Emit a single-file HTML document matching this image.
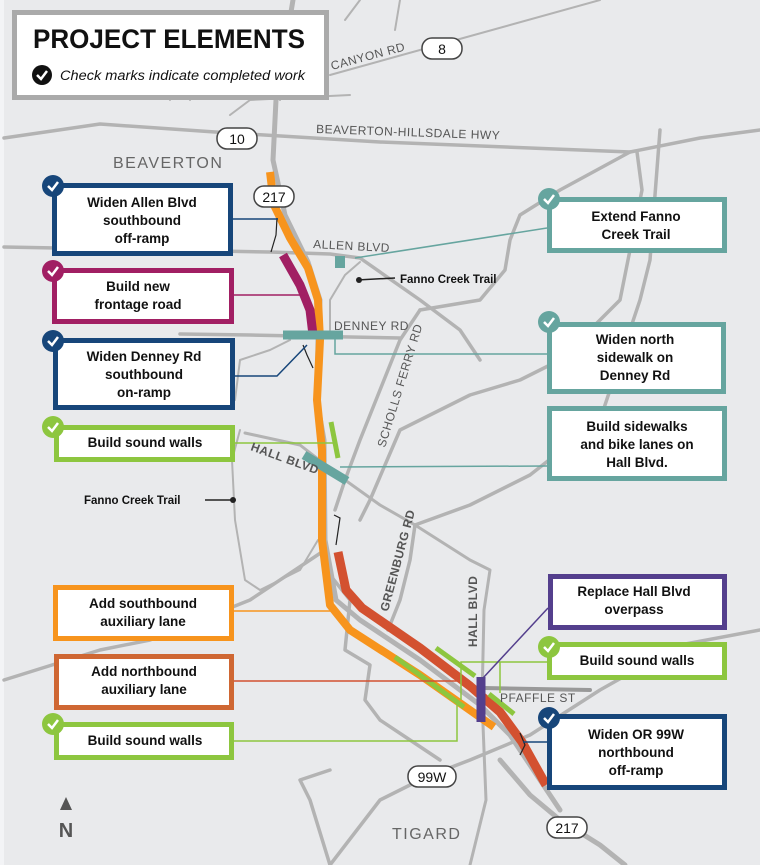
<!DOCTYPE html>
<html><head><meta charset="utf-8"><style>
html,body{margin:0;padding:0;}
body{width:760px;height:865px;overflow:hidden;background:#e9eaec;}
svg{display:block;font-family:"Liberation Sans",sans-serif;}
.b{font-weight:bold;font-size:13.5px;fill:#111;text-anchor:middle;}
.r{fill:#555;font-size:12px;letter-spacing:0.5px;}
</style></head><body>
<svg width="760" height="865" viewBox="0 0 760 865" xmlns="http://www.w3.org/2000/svg">
<rect x="0" y="0" width="760" height="865" fill="#e9eaec"/>
<rect x="0" y="0" width="4" height="865" fill="#f3f4f6"/>
<!-- roads -->
<g fill="none" stroke="#b3b3b3" stroke-width="3.5" stroke-linecap="round" stroke-linejoin="round">
<path d="M4,138 L100,124 L215,132 L380,142 L630,152 L700,138 L760,130"/>
<path d="M630,152 L560,190 L520,215 L510,240 L505,270 L480,300 L420,310"/>
<path d="M637,152 L642,190 L632,240 L620,300 L600,320 L560,360 L520,380 L470,395 L400,430 L370,500 L360,520"/>
<path d="M4,247 L270,252 L330,254 L360,258 L420,300 L460,330 L480,360"/>
<path d="M180,334 L250,335 L400,338"/>
<path d="M420,310 L400,340 L380,390 L360,440 L345,480 L335,510"/>
<path d="M245,433 L300,445 L345,480 L380,505 L415,525 L470,560 L490,570 L484,610 L482,700 L486,800 L470,865" stroke-width="3"/>
<path d="M415,525 L410,560 L400,600 L388,630"/>
<path d="M415,525 L470,505 L530,475 L600,420 L640,300 L650,260 L660,130"/>
<path d="M4,680 L100,650 L150,640 L250,600 L310,560 L325,550"/>
<path d="M330,575 L350,600 L345,650 L370,665 L365,700 L380,720 L410,740 L440,760"/>
<path d="M418,780 L470,760 L530,735 L600,690 L680,645 L760,630"/>
<path d="M440,770 L380,800 L330,865"/>
<path d="M330,770 L300,780 L310,800 L330,865"/>
<path d="M500,760 L530,795 L560,820 L600,845 L625,865" stroke-width="5"/>
<path d="M293,0 L283,60 L276,100 L273,160 L285,215 L308,262 L320,300 L318,340 L317,400 L324,440 L325,540 L336,600 L360,620 L420,660 L480,705 L510,735 L540,780 L560,810" stroke-width="5"/>
<path d="M484,688 L590,690" stroke="#999" stroke-width="4"/>
<path d="M360,0 L345,20 M400,0 L395,30 M170,100 L175,60 M190,100 L200,60 M280,100 L290,60 M230,115 L250,100 L350,95" stroke-width="2"/>
<path d="M235,400 L240,360 L270,350 L290,340 M240,430 L232,460 L235,520 L245,580 L260,590 L300,570 L318,540" stroke-width="2"/>
<path d="M330,330 L330,300 L345,275 L360,262" stroke-width="2"/>
<path d="M330,75 L600,0" stroke-width="2"/>
</g>
<!-- freeway colored -->
<g fill="none" stroke-linecap="butt" stroke-linejoin="round" stroke-width="8">
<path d="M270,172 L274,205 L290,238 L308,268 L318,300 L320,340 L317,400 L322,450 L322,540 L330,605 L350,630 L420,675 L494,727" stroke="#f7941d"/>
<path d="M283,255 L300,285 L310,310 L313,335" stroke="#a11f63" stroke-width="9"/>
<path d="M338,552 L346,590 L362,608 L420,648 L470,686 L500,712 L522,742 L546,785" stroke="#d35130" stroke-width="9"/>
</g>
<g stroke="#8dc63f" stroke-width="5" fill="none">
<path d="M331,422 L338,458"/><path d="M395,657 L464,707"/><path d="M436,648 L475,676"/><path d="M489,694 L514,714"/>
</g>
<g stroke="#66a59f" stroke-width="9" fill="none">
<path d="M283,335 L343,335"/><path d="M304,455 L347,481"/><path d="M340,256 L340,268" stroke-width="10"/>
</g>
<path d="M481,677 L481,722" stroke="#543f8d" stroke-width="9"/>
<g fill="none" stroke="#222" stroke-width="1.2">
<path d="M277,218 L276,235 L271,252"/><path d="M303,345 L307,355 L313,368"/><path d="M334,515 L340,518 L336,545"/><path d="M520,733 L525,745 L520,755"/>
</g>
<!-- leader lines -->
<g fill="none" stroke-width="1.5">
<path d="M232,219 L278,219" stroke="#17467a"/>
<path d="M232,295 L305,295" stroke="#a11f63"/>
<path d="M235,376 L277,376 L307,345" stroke="#17467a"/>
<path d="M235,443 L333,443" stroke="#8dc63f"/>
<path d="M547,228 L355,258" stroke="#66a59f"/>
<path d="M547,354 L335,354 L335,338" stroke="#66a59f"/>
<path d="M547,466 L340,467" stroke="#66a59f"/>
<path d="M234,611 L336,611" stroke="#f7941d"/>
<path d="M234,681 L470,681" stroke="#d35130"/>
<path d="M234,741 L457,741 L457,700" stroke="#8dc63f"/>
<path d="M547,662 L461,662 L461,700 M500,662 L500,693" stroke="#8dc63f"/>
<path d="M548,608 L483,678" stroke="#543f8d"/>
<path d="M547,742 L523,742" stroke="#17467a"/>
<path d="M205,500 L232,500" stroke="#222"/>
<path d="M357,280 L395,278" stroke="#222"/>
</g>
<circle cx="233" cy="500" r="3" fill="#222"/><circle cx="359" cy="280" r="3" fill="#222"/>
<!-- shields -->
<g fill="#fff" stroke="#444" stroke-width="1.5">
<rect x="422" y="38" width="40" height="21" rx="10"/>
<rect x="217" y="128" width="40" height="21" rx="10"/>
<rect x="254" y="186" width="40" height="21" rx="10"/>
<rect x="408" y="766" width="48" height="21" rx="10"/>
<rect x="547" y="817" width="40" height="21" rx="10"/>
</g>
<g font-size="14" fill="#111" text-anchor="middle">
<text x="442" y="54">8</text><text x="237" y="144">10</text><text x="274" y="202">217</text><text x="432" y="782">99W</text><text x="567" y="833">217</text>
</g>
<!-- road labels -->
<text class="r" transform="translate(332,70) rotate(-15)">CANYON RD</text>
<text class="r" x="316" y="133" transform="rotate(2,316,133)">BEAVERTON-HILLSDALE HWY</text>
<text x="113" y="168" font-size="16" fill="#666" letter-spacing="1.5">BEAVERTON</text>
<text class="r" x="313" y="248" transform="rotate(3,313,248)">ALLEN BLVD</text>
<text class="r" x="334" y="330">DENNEY RD</text>
<text class="r" transform="translate(385,448) rotate(-73)">SCHOLLS FERRY RD</text>
<text class="r" font-weight="bold" fill="#444" transform="translate(250,450) rotate(20)">HALL BLVD</text>
<text class="r" font-weight="bold" fill="#444" transform="translate(388,612) rotate(-75)">GREENBURG RD</text>
<text class="r" font-weight="bold" fill="#444" transform="translate(477,647) rotate(-90)">HALL BLVD</text>
<text class="r" x="500" y="702">PFAFFLE ST</text>
<text x="392" y="839" font-size="16" fill="#666" letter-spacing="1.5">TIGARD</text>
<text x="84" y="504" font-size="11.5" font-weight="bold" fill="#111">Fanno Creek Trail</text>
<text x="400" y="283" font-size="11.5" font-weight="bold" fill="#111">Fanno Creek Trail</text>
<!-- north -->
<path d="M60,810 L66,797 L72,810 Z" fill="#555"/>
<text x="66" y="837" font-size="20" font-weight="bold" fill="#555" text-anchor="middle">N</text>
<!-- title -->
<rect x="14.5" y="12.5" width="312" height="85" fill="#fff" stroke="#aaa" stroke-width="5"/>
<text x="33" y="48" font-size="27" font-weight="bold" fill="#111" textLength="272" lengthAdjust="spacingAndGlyphs">PROJECT ELEMENTS</text>
<circle cx="42" cy="75" r="10" fill="#111"/>
<path d="M37,75 L41,79 L47,71" stroke="#fff" stroke-width="2.5" fill="none"/>
<text x="60" y="80" font-size="13.5" font-style="italic" fill="#111" textLength="245" lengthAdjust="spacingAndGlyphs">Check marks indicate completed work</text>
<!-- boxes -->
<g fill="#fff" stroke-width="5">
<rect x="54.5" y="185.5" width="176" height="68" stroke="#17467a"/>
<rect x="54.5" y="270.5" width="177" height="51" stroke="#a11f63"/>
<rect x="55.5" y="340.5" width="177" height="67" stroke="#17467a"/>
<rect x="56.5" y="427.5" width="176" height="32" stroke="#8dc63f"/>
<rect x="55.5" y="587.5" width="176" height="51" stroke="#f7941d"/>
<rect x="56.5" y="656.5" width="175" height="51" stroke="#cf6733"/>
<rect x="56.5" y="724.5" width="175" height="33" stroke="#8dc63f"/>
<rect x="549.5" y="199.5" width="175" height="51" stroke="#66a59f"/>
<rect x="549.5" y="324.5" width="174" height="67" stroke="#66a59f"/>
<rect x="549.5" y="408.5" width="175" height="70" stroke="#66a59f"/>
<rect x="550.5" y="576.5" width="174" height="51" stroke="#543f8d"/>
<rect x="549.5" y="644.5" width="175" height="33" stroke="#8dc63f"/>
<rect x="549.5" y="716.5" width="175" height="71" stroke="#17467a"/>
</g>
<g class="b">
<text class="b" x="142" y="207">Widen Allen Blvd</text><text class="b" x="142" y="225">southbound</text><text class="b" x="142" y="243">off-ramp</text>
<text class="b" x="138" y="291">Build new</text><text class="b" x="138" y="309">frontage road</text>
<text class="b" x="144" y="361">Widen Denney Rd</text><text class="b" x="144" y="379">southbound</text><text class="b" x="144" y="397">on-ramp</text>
<text class="b" x="145" y="447">Build sound walls</text>
<text class="b" x="143" y="608">Add southbound</text><text class="b" x="143" y="626">auxiliary lane</text>
<text class="b" x="144" y="676">Add northbound</text><text class="b" x="144" y="694">auxiliary lane</text>
<text class="b" x="145" y="745">Build sound walls</text>
<text class="b" x="636" y="221">Extend Fanno</text><text class="b" x="636" y="239">Creek Trail</text>
<text class="b" x="635" y="344">Widen north</text><text class="b" x="635" y="362">sidewalk on</text><text class="b" x="635" y="380">Denney Rd</text>
<text class="b" x="637" y="431">Build sidewalks</text><text class="b" x="637" y="449">and bike lanes on</text><text class="b" x="637" y="467">Hall Blvd.</text>
<text class="b" x="634" y="596">Replace Hall Blvd</text><text class="b" x="634" y="614">overpass</text>
<text class="b" x="637" y="665">Build sound walls</text>
<text class="b" x="636" y="739">Widen OR 99W</text><text class="b" x="636" y="757">northbound</text><text class="b" x="636" y="775">off-ramp</text>
</g>
<!-- check circles -->
<g stroke="none">
<circle cx="53" cy="186" r="11" fill="#17467a"/>
<circle cx="53" cy="271" r="11" fill="#a11f63"/>
<circle cx="53" cy="341" r="11" fill="#17467a"/>
<circle cx="53" cy="427" r="11" fill="#8dc63f"/>
<circle cx="53" cy="724" r="11" fill="#8dc63f"/>
<circle cx="549" cy="199" r="11" fill="#66a59f"/>
<circle cx="549" cy="322" r="11" fill="#66a59f"/>
<circle cx="549" cy="647" r="11" fill="#8dc63f"/>
<circle cx="549" cy="718" r="11" fill="#17467a"/>
</g>
<g stroke="#fff" stroke-width="2.5" fill="none">
<path d="M48,186 L52,190 L58,182"/><path d="M48,271 L52,275 L58,267"/><path d="M48,341 L52,345 L58,337"/><path d="M48,427 L52,431 L58,423"/><path d="M48,724 L52,728 L58,720"/>
<path d="M544,199 L548,203 L554,195"/><path d="M544,322 L548,326 L554,318"/><path d="M544,647 L548,651 L554,643"/><path d="M544,718 L548,722 L554,714"/>
</g>
</svg>
</body></html>
